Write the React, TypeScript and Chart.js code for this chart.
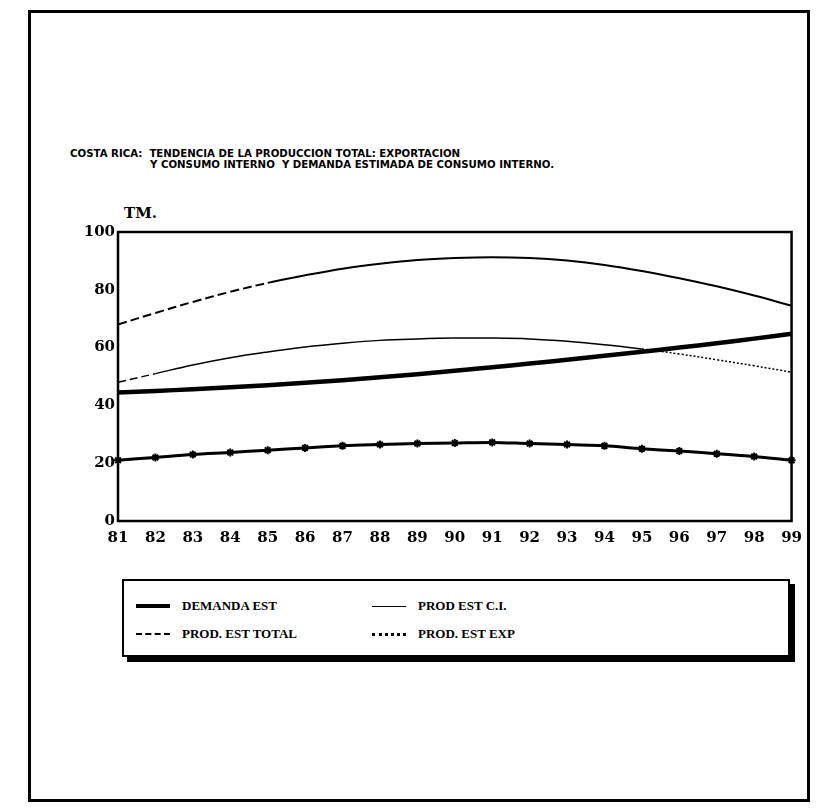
import React, { useEffect, useRef } from "react";
import { Chart, registerables } from "chart.js";

Chart.register(...registerables);

const years = ["81","82","83","84","85","86","87","88","89","90","91","92","93","94","95","96","97","98","99"];
const demandaEst = [44.5, 45.0, 45.6, 46.3, 47.0, 47.8, 48.7, 49.7, 50.8, 52.0, 53.2, 54.5, 55.8, 57.2, 58.6, 60.0, 61.5, 63.1, 64.8];
const prodEstTotal = [68.0, 72.0, 75.8, 79.3, 82.4, 85.0, 87.3, 89.0, 90.3, 91.0, 91.3, 91.0, 90.1, 88.6, 86.5, 84.0, 81.2, 78.0, 74.5];
const prodEstCI = [48.0, 51.0, 54.0, 56.5, 58.5, 60.2, 61.5, 62.5, 63.0, 63.3, 63.3, 63.0, 62.2, 61.0, 59.5, 57.8, 55.8, 53.7, 51.5];
const prodEstExp = [21.0, 22.0, 23.0, 23.7, 24.5, 25.3, 26.0, 26.5, 26.8, 27.0, 27.2, 26.8, 26.5, 26.0, 25.0, 24.2, 23.3, 22.3, 21.0];
const yTicks = [0, 20, 40, 60, 80, 100];

const titleLine1 = "COSTA RICA:  TENDENCIA DE LA PRODUCCION TOTAL: EXPORTACION";
const titleLine2 = "Y CONSUMO INTERNO  Y DEMANDA ESTIMADA DE CONSUMO INTERNO.";
const unitLabel = "TM.";
const legendItems = [
  { label: "DEMANDA EST", kind: "thick" },
  { label: "PROD EST C.I.", kind: "thin" },
  { label: "PROD. EST TOTAL", kind: "dash" },
  { label: "PROD. EST EXP", kind: "exp" },
];

const SERIF = '"DejaVu Serif", "Liberation Serif", serif';
const LSERIF = '"Liberation Serif", "DejaVu Serif", serif';

export default function App() {
  const ref = useRef<HTMLCanvasElement | null>(null);

  useEffect(() => {
    if (!ref.current) return;
    const framePlugin = {
      id: "frame",
      afterDraw(chart: any) {
        const { ctx, chartArea } = chart;
        ctx.save();
        ctx.strokeStyle = "#000";
        ctx.lineWidth = 2.5;
        ctx.strokeRect(chartArea.left, chartArea.top, chartArea.right - chartArea.left, chartArea.bottom - chartArea.top);
        ctx.restore();
      },
    };
    const chart = new Chart(ref.current, {
      type: "line",
      data: {
        labels: years,
        datasets: [
          {
            label: "PROD. EST TOTAL",
            data: prodEstTotal,
            borderColor: "#000",
            borderWidth: 2,
            pointRadius: 0,
            tension: 0.4,
            segment: { borderDash: (c: any) => (c.p0DataIndex < 4 ? [9, 4] : undefined) },
          },
          {
            label: "PROD EST C.I.",
            data: prodEstCI,
            borderColor: "#000",
            borderWidth: 1.5,
            pointRadius: 0,
            tension: 0.4,
            segment: {
              borderDash: (c: any) => (c.p0DataIndex < 1 ? [8, 4] : c.p0DataIndex >= 14 ? [2, 2] : undefined),
            },
          },
          {
            label: "DEMANDA EST",
            data: demandaEst,
            borderColor: "#000",
            borderWidth: 4.5,
            pointRadius: 0,
            tension: 0.4,
          },
          {
            label: "PROD. EST EXP",
            data: prodEstExp,
            borderColor: "#000",
            backgroundColor: "#000",
            borderWidth: 3,
            pointStyle: "star",
            pointRadius: 4,
            pointBorderWidth: 2,
            tension: 0.3,
          },
        ],
      },
      options: {
        animation: false,
        responsive: false,
        maintainAspectRatio: false,
        layout: { padding: { top: 32, right: 18, left: 0, bottom: 0 } },
        plugins: { legend: { display: false }, tooltip: { enabled: false }, title: { display: false } },
        scales: {
          x: {
            grid: { display: false, drawTicks: false },
            border: { display: false },
            offset: false,
            ticks: { color: "#000", font: { family: SERIF, size: 15, weight: "bold" }, padding: 8, maxRotation: 0, autoSkip: false },
            afterFit: (axis: any) => { axis.height = 29; },
          },
          y: {
            min: 0,
            max: 100,
            grid: { display: false, drawTicks: false },
            border: { display: false },
            afterBuildTicks: (axis: any) => { axis.ticks = yTicks.map((v) => ({ value: v })); },
            ticks: { color: "#000", font: { family: SERIF, size: 15, weight: "bold" }, padding: 3 },
            afterFit: (axis: any) => { axis.width = 58; },
          },
        },
      },
      plugins: [framePlugin],
    });
    return () => chart.destroy();
  }, []);

  const lineSample = (kind: string) => {
    const base: React.CSSProperties = { display: "inline-block", width: 34, marginRight: 12, verticalAlign: "middle" };
    if (kind === "thick") return <span style={{ ...base, borderTop: "4px solid #000" }} />;
    if (kind === "thin") return <span style={{ ...base, borderTop: "1.5px solid #000" }} />;
    if (kind === "dash") return <span style={{ ...base, borderTop: "2px dashed #000" }} />;
    return <span style={{ ...base, borderTop: "3px dotted #000" }} />;
  };

  return (
    <div style={{ position: "relative", width: 808, height: 796 }}>
      <div style={{ position: "absolute", left: 20, top: 2, width: 776, height: 786, border: "3px solid #000" }} />
      <div
        style={{
          position: "absolute",
          left: 62,
          top: 140,
          fontFamily: '"DejaVu Sans", sans-serif',
          fontWeight: "bold",
          fontSize: 10.2,
          lineHeight: "11px",
          color: "#000",
          whiteSpace: "pre",
        }}
      >
        <div>{titleLine1}</div>
        <div style={{ paddingLeft: 80 }}>{titleLine2}</div>
      </div>
      <div
        style={{ position: "absolute", left: 116, top: 196, fontFamily: SERIF, fontWeight: "bold", fontSize: 15, color: "#000" }}
      >
        {unitLabel}
      </div>
      <canvas ref={ref} width={750} height={350} style={{ position: "absolute", left: 52, top: 192, width: 750, height: 350 }} />
      <div
        style={{
          position: "absolute",
          left: 114,
          top: 571,
          width: 664,
          height: 74,
          border: "2px solid #000",
          boxShadow: "5px 5px 0 #000",
          background: "#fff",
          fontFamily: LSERIF,
          fontWeight: "bold",
          fontSize: 13,
          color: "#000",
        }}
      >
        {legendItems.map((it, i) => (
          <div
            key={it.label}
            style={{
              position: "absolute",
              left: i % 2 === 0 ? 12 : 248,
              top: i < 2 ? 16 : 44,
              whiteSpace: "nowrap",
              lineHeight: "16px",
            }}
          >
            {lineSample(it.kind)}
            <span style={{ verticalAlign: "middle" }}>{it.label}</span>
          </div>
        ))}
      </div>
    </div>
  );
}
